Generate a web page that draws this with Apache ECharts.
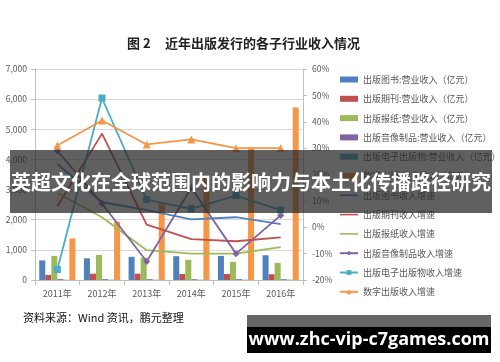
<!DOCTYPE html>
<html><head><meta charset="utf-8">
<script src="https://cdn.jsdelivr.net/npm/echarts@6/dist/echarts.min.js"></script>
<style>html,body{margin:0;padding:0;background:#fff}#c{width:500px;height:362px}</style>
</head><body><div id="c"></div>
<script>
var categories = ['2011年','2012年','2013年','2014年','2015年','2016年'];
var bookRev = [650, 720, 770, 790, 800, 820];
var periodicalRev = [170, 210, 210, 200, 200, 190];
var newspaperRev = [800, 830, 740, 670, 600, 570];
var avRev = [28, 27, 26, 25, 27, 26];
var ebookRev = [10, 11, 11, 11, 12, 13];
var digitalRev = [1380, 1935, 2540, 3388, 4404, 5721];
var bookGrowth = [24, 9.5, 6.5, 3, 3.8, 1.2];
var periodicalGrowth = [8, 35.5, 1, -4.5, -5.3, -3.8];
var newspaperGrowth = [13, 3.8, -8.7, -10, -10, -7.5];
var avGrowth = [29, 9, -13, 15, -10, 4.5];
var ebookGrowth = [-16, 49, 10.5, 7, 12, 6.5];
var digitalGrowth = [31, 40.5, 31.4, 33.3, 30, 30];
var leftTicks = {min: 0, max: 7000, interval: 1000};
var rightTicks = {min: -20, max: 60, interval: 10};

var C = {blue:'#4F81BD', red:'#C0504D', green:'#9BBB59', purple:'#8064A2', cyan:'#4BACC6', orange:'#F79646'};
var font = '"Noto Sans CJK SC", "Liberation Sans", sans-serif';
var plainLineIcon = 'path://M0,0 M0,6 M0,2.2 L18,2.2 L18,3.8 L0,3.8 Z';
function bar(name, data, color){ return {name:name, type:'bar', yAxisIndex:0, data:data, itemStyle:{color:color}, barGap:'0%', barCategoryGap:'19%'}; }
function line(name, data, color, symbol, size){
  return {name:name, type:'line', yAxisIndex:1, data:data, symbol:symbol||'none', symbolSize:size||6, showSymbol:!!symbol,
    lineStyle:{color:color, width:1.8}, itemStyle:{color:color}};
}
var series = [
  bar('出版图书:营业收入（亿元）', bookRev, C.blue),
  bar('出版期刊:营业收入（亿元）', periodicalRev, C.red),
  bar('出版报纸:营业收入（亿元）', newspaperRev, C.green),
  bar('出版音像制品:营业收入（亿元）', avRev, C.purple),
  bar('出版电子出版物:营业收入（亿元）', ebookRev, C.cyan),
  bar('数字出版:营业收入（亿元）', digitalRev, C.orange),
  line('出版图书收入增速', bookGrowth, C.blue),
  line('出版期刊收入增速', periodicalGrowth, C.red),
  line('出版报纸收入增速', newspaperGrowth, C.green),
  line('出版音像制品收入增速', avGrowth, C.purple, 'diamond', 7),
  line('出版电子出版物收入增速', ebookGrowth, C.cyan, 'rect', 7),
  line('数字出版收入增速', digitalGrowth, C.orange, 'triangle', 8)
];
var chart = echarts.init(document.getElementById('c'), null, {renderer:'canvas'});
chart.setOption({
  animation:false,
  textStyle:{fontFamily:font},
  grid:{left:35, right:197, top:69, bottom:82},
  legend:{orient:'vertical', left:334, top:70, itemWidth:18, itemHeight:6, itemGap:10.3,
    textStyle:{fontSize:9, color:'#595959', fontFamily:font},
    data:series.map(function(s){
      if (s.type==='bar') return {name:s.name, icon:'rect'};
      if (!s.showSymbol) return {name:s.name, icon:plainLineIcon};
      return {name:s.name};
    })},
  xAxis:{type:'category', data:categories,
    axisLine:{lineStyle:{color:'#BFBFBF'}}, axisTick:{show:true, alignWithLabel:false, lineStyle:{color:'#BFBFBF'}},
    axisLabel:{fontSize:9, color:'#595959', margin:9}},
  yAxis:[
    {type:'value', min:leftTicks.min, max:leftTicks.max, interval:leftTicks.interval,
     axisLine:{show:true, lineStyle:{color:'#BFBFBF'}}, axisTick:{show:true, length:4, lineStyle:{color:'#BFBFBF'}},
     splitLine:{lineStyle:{color:'#D9D9D9'}},
     axisLabel:{fontSize:8.5, color:'#595959', margin:8, formatter:function(v){ return String(v).replace(/\B(?=(\d{3})+(?!\d))/g, ','); }}},
    {type:'value', min:rightTicks.min, max:rightTicks.max, interval:rightTicks.interval,
     axisLine:{show:true, lineStyle:{color:'#BFBFBF'}}, axisTick:{show:true, length:4, lineStyle:{color:'#BFBFBF'}},
     splitLine:{show:false},
     axisLabel:{fontSize:8.5, color:'#595959', margin:9, formatter:'{value}%'}}
  ],
  series:series,
  graphic:[
    {type:'text', left:127, top:37, z:50, style:{text:'图 2', font:'bold 13px '+font, fill:'#222'}},
    {type:'text', left:165, top:37, z:50, style:{text:'近年出版发行的各子行业收入情况', font:'bold 13px '+font, fill:'#222'}},
    {type:'text', left:23, top:312, z:50, style:{text:'资料来源：Wind 资讯，鹏元整理', font:'11px '+font, fill:'#111'}},
    {type:'rect', shape:{x:10, y:150, width:482, height:63}, z:100, style:{fill:'rgba(40,40,40,0.74)'}},
    {type:'text', x:251, y:182, z:101, style:{text:'英超文化在全球范围内的影响力与本土化传播路径研究', font:'bold 20px '+font, fill:'#fff', align:'center', verticalAlign:'middle'}},
    {type:'rect', shape:{x:247, y:315, width:244, height:13}, z:100, style:{fill:'#666'}},
    {type:'rect', shape:{x:247, y:327, width:244, height:26}, z:100, style:{fill:'#000'}},
    {type:'text', x:369, y:340, z:101, style:{text:'www.zhc-vip-c7games.com', font:'bold 18px "Open Sans", "DejaVu Sans", sans-serif', fill:'#fff', align:'center', verticalAlign:'middle'}}
  ]
});
</script></body></html>
